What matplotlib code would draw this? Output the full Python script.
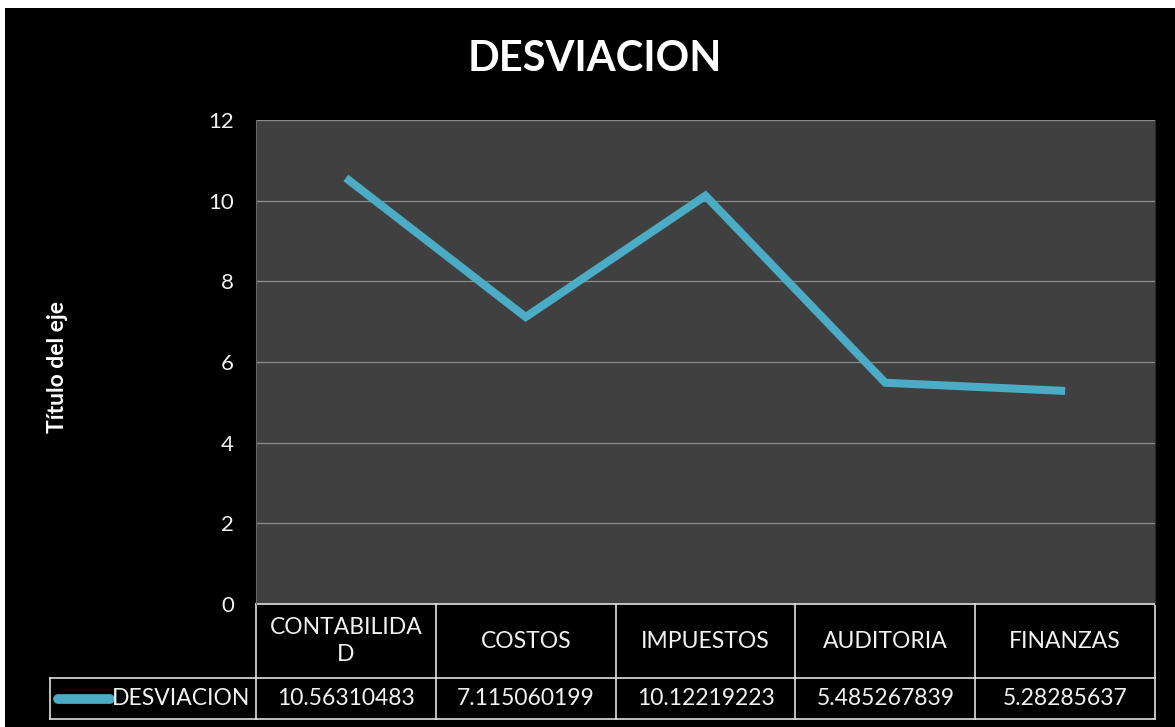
import matplotlib.pyplot as plt
from matplotlib.patches import Rectangle
from matplotlib.lines import Line2D

categories = ["CONTABILIDAD", "COSTOS", "IMPUESTOS", "AUDITORIA", "FINANZAS"]
cat_labels = ["CONTABILIDA\nD", "COSTOS", "IMPUESTOS", "AUDITORIA", "FINANZAS"]
values = [10.56310483, 7.115060199, 10.12219223, 5.485267839, 5.28285637]
value_labels = ["10.56310483", "7.115060199", "10.12219223", "5.485267839", "5.28285637"]
series_name = "DESVIACION"
yticks = [0, 2, 4, 6, 8, 10, 12]

LINE = "#4bacc6"
TXT = "#f2f2f2"
GRID = "#8c8c8c"
FONT = "Lato"

W, H = 1175, 727
fig = plt.figure(figsize=(W / 100, H / 100), dpi=100, facecolor="white")
# black chart area inside a thin white frame
fig.patches.append(Rectangle((5 / W, 0), 1 - 5 / W, 1 - 8 / H, transform=fig.transFigure,
                             facecolor="black", edgecolor="none", zorder=-10))

ax = fig.add_axes([256 / W, 1 - 604 / H, (1155 - 256) / W, (604 - 120) / H])
ax.set_facecolor("#404040")
ax.set_xlim(-0.5, len(categories) - 0.5)
ax.set_ylim(0, 12)
ax.set_yticks(yticks)
ax.set_yticklabels([str(t) for t in yticks], fontsize=16, color=TXT, family=FONT)
ax.tick_params(axis="y", length=0, pad=16)
ax.set_xticks([])
for y in yticks[1:]:
    ax.axhline(y, color=GRID, lw=0.9, zorder=1)
for s in ax.spines.values():
    s.set_visible(False)
ax.spines["left"].set_visible(True)
ax.spines["left"].set_color("#6a6a6a")
ax.spines["right"].set_visible(True)
ax.spines["right"].set_color("#2a2a2a")

x = list(range(len(categories)))
ax.plot(x, values, color=LINE, lw=5.8, solid_capstyle="butt", solid_joinstyle="miter", zorder=3)

fig.text(595 / W, 1 - 59 / H, "DESVIACION", ha="center", va="center", fontsize=30,
         fontweight="bold", color="white", family=FONT)
fig.text(57 / W, 1 - 367 / H, "Título del eje", ha="center", va="center", rotation=90,
         fontsize=16.5, fontweight="bold", color="white", family=FONT)

# data table under the plot
trans = ax.get_xaxis_transform()
r1 = -74 / 484
r2 = -115 / 484
edge = "#e0e0e0"
n = len(categories)
lines_kw = dict(color=edge, lw=1.2, transform=trans, clip_on=False)
ax.add_line(Line2D([-0.5, n - 0.5], [0, 0], **lines_kw))
ax.add_line(Line2D([-0.5, n - 0.5], [r1, r1], **lines_kw))
ax.add_line(Line2D([-0.5, n - 0.5], [r2, r2], **lines_kw))
for i in range(n + 1):
    ax.add_line(Line2D([i - 0.5, i - 0.5], [0, r2], **lines_kw))
for i, (lab, val) in enumerate(zip(cat_labels, value_labels)):
    ax.text(i, r1 / 2, lab, transform=trans, ha="center", va="center", color=TXT,
            fontsize=16.5, family=FONT, linespacing=1.3)
    ax.text(i, (r1 + r2) / 2, val, transform=trans, ha="center", va="center", color=TXT,
            fontsize=16.5, family=FONT)

# row label cell with legend key
ftr = fig.transFigure
yb, yt = 1 - 719 / H, 1 - 678 / H
fig.add_artist(Line2D([50 / W, 256 / W], [yb, yb], color=edge, lw=1.2, transform=ftr))
fig.add_artist(Line2D([50 / W, 256 / W], [yt, yt], color=edge, lw=1.2, transform=ftr))
fig.add_artist(Line2D([50 / W, 50 / W], [yb, yt], color=edge, lw=1.2, transform=ftr))
fig.add_artist(Line2D([58 / W, 110 / W], [(yb + yt) / 2] * 2, color=LINE, lw=7,
                      solid_capstyle="round", transform=ftr))
fig.text(250 / W, (yb + yt) / 2, series_name, ha="right", va="center", color=TXT,
         fontsize=16.5, family=FONT)

fig.savefig("out.png", dpi=100, facecolor=fig.get_facecolor())
